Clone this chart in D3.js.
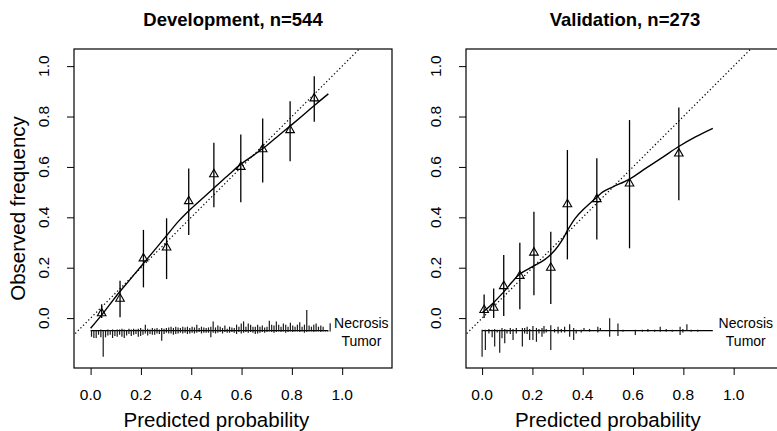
<!DOCTYPE html>
<html>
<head>
<meta charset="utf-8">
<script src="https://cdn.jsdelivr.net/npm/d3@7"></script>
<style>
  body { margin: 0; background: #fff; }
  svg { display: block; font-family: "Liberation Sans", Arial, Helvetica, sans-serif; }
</style>
</head>
<body>
<div id="chart"></div>
<script>
// calibration plots, development vs validation

var titles = ["Development, n=544", "Validation, n=273"];
var xTicks = [0.0, 0.2, 0.4, 0.6, 0.8, 1.0];
var yTicks = [0.0, 0.2, 0.4, 0.6, 0.8, 1.0];

// grouped observed frequencies with 95% CI
var devX   = [0.044, 0.117, 0.21, 0.302, 0.39, 0.49, 0.597, 0.684, 0.793, 0.889];
var devObs = [0.019, 0.077, 0.237, 0.28, 0.464, 0.571, 0.60, 0.67, 0.746, 0.872];
var devLo  = [0.0, 0.003, 0.122, 0.155, 0.33, 0.44, 0.46, 0.538, 0.623, 0.779];
var devHi  = [0.055, 0.148, 0.35, 0.396, 0.594, 0.696, 0.729, 0.792, 0.861, 0.96];

var valX   = [0.008, 0.046, 0.086, 0.15, 0.206, 0.273, 0.339, 0.456, 0.586, 0.782];
var valObs = [0.032, 0.041, 0.127, 0.167, 0.26, 0.2, 0.452, 0.472, 0.534, 0.653];
var valLo  = [0.0, 0.0, 0.008, 0.035, 0.091, 0.056, 0.233, 0.312, 0.277, 0.468];
var valHi  = [0.094, 0.118, 0.25, 0.299, 0.422, 0.343, 0.667, 0.634, 0.786, 0.836];

// smoothed (loess) calibration curves
var devCurveX = [0, 0.05, 0.1, 0.15, 0.2, 0.25, 0.3, 0.35, 0.4, 0.45, 0.5, 0.55, 0.6, 0.65, 0.7, 0.75, 0.8, 0.85, 0.9, 0.945];
var devCurveY = [-0.04, 0.02, 0.085, 0.145, 0.205, 0.265, 0.325, 0.385, 0.435, 0.48, 0.525, 0.57, 0.613, 0.648, 0.685, 0.727, 0.768, 0.81, 0.853, 0.89];
var valCurveX = [0.0, 0.04, 0.086, 0.12, 0.15, 0.2, 0.25, 0.29, 0.32, 0.34, 0.37, 0.40, 0.456, 0.48, 0.52, 0.586, 0.65, 0.72, 0.78, 0.85, 0.917];
var valCurveY = [0.021, 0.056, 0.104, 0.144, 0.175, 0.204, 0.233, 0.27, 0.312, 0.349, 0.396, 0.429, 0.48, 0.501, 0.521, 0.552, 0.594, 0.64, 0.68, 0.72, 0.753];

// spike histograms of predictions (lengths in hundredths of y units)
var devRugStart = 0.0036, devRugStep = 0.0093, devRugEnd = 0.945;
var devNecrosis = [0, 0, 0, 0, 0.5, 0, 0, 0.5, 0.3, 0.5, 0.3, 0.5, 0.5, 0.8, 0.5, 0.3, 0.8, 0.5, 0.8, 0.5,
  0.8, 1.1, 0.5, 2.4, 0.8, 0.5, 1.1, 0.8, 1.1, 0.5, 1.1, 0.8, 1.1, 1.3, 1.6,
  1.1, 1.6, 1.3, 1.1, 1.6, 1.3, 1.6, 1.1, 1.6, 1.3, 2.4, 1.1, 1.6, 1.3, 1.1, 1.3, 1.6, 3.7, 1.3, 2.1,
  1.6, 1.1, 2.1, 0.8, 1.6, 1.3, 1.1, 2.4, 1.6, 2.9, 3.7, 1.6, 2.9, 2.4, 1.6,
  1.6, 2.4, 1.6, 2.1, 1.3, 1.6, 4.0, 2.4, 2.1, 3.7, 2.4, 1.6, 2.9, 2.4, 1.6, 3.2, 2.1, 1.6, 2.4, 3.4,
  1.6, 2.4, 8.2, 2.1, 1.6, 2.4, 2.9, 1.6, 2.1, 1.6, 0, 0, 3.0];
var devTumor = [2.4, 2.9, 2.9, 1.6, 2.6, 10.3, 2.6, 1.9, 1.6, 2.9, 2.1, 2.4, 1.6, 2.4, 2.9, 1.9, 1.3, 2.1, 1.6, 1.3,
  2.4, 2.1, 1.6, 1.1, 1.9, 1.3, 1.6, 1.6, 1.1, 1.3, 4.0, 1.3, 0.8, 1.1, 1.1,
  1.6, 1.3, 1.1, 0.8, 1.1, 0.8, 1.3, 1.1, 0.8, 1.1, 0.8, 0.5, 1.1, 0.8, 0.8, 0.8, 2.6, 0.8, 1.1, 0.8,
  0.5, 1.1, 0.5, 0.8, 0.8, 0.5, 0.8, 1.3, 0.5, 1.1, 0.8, 0.5, 0.8, 0.5, 0.8,
  1.3, 1.1, 0.8, 0.5, 0.8, 0.5, 0.3, 0.5, 0.8, 0.5, 0.3, 0.5, 0.3, 0.8, 0.5, 0.3, 0.5, 0.3, 0.3, 0.5,
  0.3, 0.8, 0.5, 0.3, 0.3, 0.5, 0.3, 0.3, 0.5, 0.3, 0.3, 0.3, 0.3];

var valRugEnd = 0.917;
var valRugX = [0.0, 0.013, 0.027, 0.040, 0.050, 0.060, 0.070, 0.079, 0.090, 0.099, 0.112, 0.123, 0.136, 0.160, 0.169,
  0.179, 0.189, 0.202, 0.216, 0.226, 0.238, 0.246, 0.255, 0.273, 0.288, 0.302, 0.315, 0.328, 0.348, 0.364, 0.374,
  0.394, 0.405, 0.427, 0.460, 0.470, 0.507, 0.540, 0.560, 0.609, 0.637, 0.659, 0.686, 0.708, 0.732, 0.756, 0.787,
  0.798, 0.814, 0.831, 0.857];
var valNecrosis = [0.4, 0.4, 0.7, 0.4, 0.7, 0.4, 0.4, 1.1, 0.7, 0.4, 1.1, 0.7, 1.1, 1.1, 1.1, 1.6, 0.7, 1.9, 1.1, 0.7,
  1.1, 1.9, 0.7, 2.2, 0.7, 1.6, 0.7, 1.6, 2.6, 1.1, 0.4, 0.4, 1.1, 0.7, 1.6, 1.1, 4.9, 2.9, 0.4, 0.4,
  0.4, 0.7, 0.4, 1.6, 0.7, 0.4, 1.6, 0.7, 2.6, 0.4, 0.4];
var valTumor = [10.3, 7.7, 1.1, 2.6, 6.3, 0.7, 8.7, 3.0, 5.0, 1.1, 1.3, 3.7, 1.1, 6.3, 1.1, 1.3, 3.7, 3.7, 4.4, 1.1,
  2.4, 1.1, 0.7, 7.7, 0.7, 1.1, 0.7, 0.7, 2.4, 3.7, 1.1, 0.7, 0, 0.4, 0.7, 0, 2.4, 2.1, 0.4, 1.7,
  0.4, 0.4, 0.4, 0.4, 0.4, 0.4, 1.7, 0.7, 0, 0.4, 0.4];

var rugLevel = -0.05;

var W = 777, H = 431;
var svg = d3.select("#chart").append("svg").attr("width", W).attr("height", H);

var panels = [
  { title: titles[0], left: 74, right: 392, xDom: [-0.066, 1.198],
    px: devX, obs: devObs, lo: devLo, hi: devHi, cx: devCurveX, cy: devCurveY,
    rugX: devNecrosis.map(function (d, i) { return devRugStart + i * devRugStep; }),
    up: devNecrosis, down: devTumor, rugEnd: devRugEnd },
  { title: titles[1], left: 466, right: 784, xDom: [-0.064, 1.2],
    px: valX, obs: valObs, lo: valLo, hi: valHi, cx: valCurveX, cy: valCurveY,
    rugX: valRugX, up: valNecrosis, down: valTumor, rugEnd: valRugEnd }
];

var plotTop = 49, plotBottom = 368;
var y = d3.scaleLinear().domain([-0.198, 1.068]).range([plotBottom, plotTop]);
var fmt = d3.format(".1f");

panels.forEach(function (p, k) {
  var x = d3.scaleLinear().domain(p.xDom).range([p.left, p.right]);
  var g = svg.append("g");

  var clipId = "clip" + k;
  svg.append("clipPath").attr("id", clipId)
    .append("rect").attr("x", p.left).attr("y", plotTop)
    .attr("width", p.right - p.left).attr("height", plotBottom - plotTop);

  // title
  g.append("text")
    .attr("x", (p.left + p.right) / 2).attr("y", 25.5)
    .attr("text-anchor", "middle")
    .style("font-weight", "bold").style("font-size", "18.5px")
    .text(p.title);

  // x axis
  var xa = g.append("g").attr("transform", "translate(0," + plotBottom + ")")
    .call(d3.axisBottom(x).tickValues(xTicks).tickFormat(fmt).tickSize(7));
  xa.select(".domain").remove();
  xa.selectAll("line").attr("stroke", "#000");
  xa.selectAll("text").remove();
  g.selectAll(".xlab" + k).data(xTicks).enter().append("text")
    .attr("x", function (d) { return x(d); })
    .attr("y", 399.5)
    .attr("text-anchor", "middle")
    .style("font-size", "15.5px")
    .text(fmt);

  // y axis
  var ya = g.append("g").attr("transform", "translate(" + p.left + ",0)")
    .call(d3.axisLeft(y).tickValues(yTicks).tickFormat(fmt).tickSize(7));
  ya.select(".domain").remove();
  ya.selectAll("line").attr("stroke", "#000");
  ya.selectAll("text").remove();
  g.selectAll(".ylab" + k).data(yTicks).enter().append("text")
    .attr("transform", function (d) { return "translate(" + (p.left - 24.7) + "," + y(d) + ") rotate(-90)"; })
    .attr("text-anchor", "middle")
    .style("font-size", "15.5px")
    .text(fmt);

  // box
  g.append("rect").attr("x", p.left).attr("y", plotTop)
    .attr("width", p.right - p.left).attr("height", plotBottom - plotTop)
    .attr("fill", "none").attr("stroke", "#000").attr("stroke-width", 1.2);

  // axis titles
  g.append("text")
    .attr("x", x(0.5)).attr("y", 427)
    .attr("text-anchor", "middle").style("font-size", "20.5px")
    .text("Predicted probability");
  if (k === 0) {
    g.append("text")
      .attr("transform", "translate(25," + ((plotTop + plotBottom) / 2) + ") rotate(-90)")
      .attr("text-anchor", "middle").style("font-size", "20.5px")
      .text("Observed frequency");
  }

  // ideal line
  g.append("line")
    .attr("clip-path", "url(#" + clipId + ")")
    .attr("x1", x(-0.3)).attr("y1", y(-0.3))
    .attr("x2", x(1.3)).attr("y2", y(1.3))
    .attr("stroke", "#000").attr("stroke-width", 1.2)
    .attr("stroke-dasharray", "1.3,2.4");

  // rug base
  g.append("line")
    .attr("x1", x(0)).attr("x2", x(p.rugEnd))
    .attr("y1", y(rugLevel)).attr("y2", y(rugLevel))
    .attr("stroke", "#000").attr("stroke-width", 1.2);

  var ups = p.up.map(function (d, i) { return { x: p.rugX[i], v: d }; }).filter(function (d) { return d.v > 0; });
  var downs = p.down.map(function (d, i) { return { x: p.rugX[i], v: d }; }).filter(function (d) { return d.v > 0; });

  g.selectAll(".up" + k).data(ups).enter().append("line")
    .attr("x1", function (d) { return x(d.x); })
    .attr("x2", function (d) { return x(d.x); })
    .attr("y1", y(rugLevel))
    .attr("y2", function (d) { return y(rugLevel + d.v / 100); })
    .attr("stroke", "#1a1a1a").attr("stroke-width", 1.2);

  g.selectAll(".down" + k).data(downs).enter().append("line")
    .attr("x1", function (d) { return x(d.x); })
    .attr("x2", function (d) { return x(d.x); })
    .attr("y1", y(rugLevel))
    .attr("y2", function (d) { return y(rugLevel - d.v / 100); })
    .attr("stroke", "#1a1a1a").attr("stroke-width", 1.2);

  g.append("text")
    .attr("x", x(p.rugEnd) + 33).attr("y", y(rugLevel) - 2.5)
    .attr("text-anchor", "middle").style("font-size", "14px")
    .text("Necrosis");
  g.append("text")
    .attr("x", x(p.rugEnd) + 33).attr("y", y(rugLevel) + 15.3)
    .attr("text-anchor", "middle").style("font-size", "14px")
    .text("Tumor");

  // smooth curve
  var line = d3.line()
    .x(function (d, i) { return x(p.cx[i]); })
    .y(function (d) { return y(d); })
    .curve(d3.curveCatmullRom);
  g.append("path").datum(p.cy)
    .attr("d", line)
    .attr("fill", "none").attr("stroke", "#000").attr("stroke-width", 1.4);

  // error bars
  g.selectAll(".err" + k).data(p.px).enter().append("line")
    .attr("x1", function (d) { return x(d); })
    .attr("x2", function (d) { return x(d); })
    .attr("y1", function (d, i) { return y(p.lo[i]); })
    .attr("y2", function (d, i) { return y(p.hi[i]); })
    .attr("stroke", "#000").attr("stroke-width", 1.3);

  // triangles
  var tri = d3.symbol().type(d3.symbolTriangle).size(32);
  g.selectAll(".pt" + k).data(p.px).enter().append("path")
    .attr("d", tri)
    .attr("transform", function (d, i) { return "translate(" + x(d) + "," + y(p.obs[i]) + ")"; })
    .attr("fill", "none").attr("stroke", "#000").attr("stroke-width", 1.1);
});
</script>
</body>
</html>
